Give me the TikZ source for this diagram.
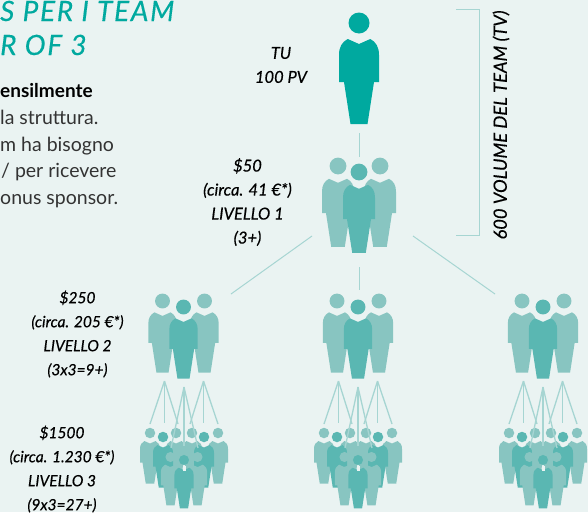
\documentclass[tikz,border=0pt]{standalone}
\usepackage{fontspec}
\setmainfont{Lato}
\newfontfamily\titlefont[LetterSpace=6,FakeBold=0.3]{Lato}
\newfontfamily\labfont[FakeBold=0.4]{Lato}
\definecolor{bgcol}{HTML}{EAF3F2}
\definecolor{topcol}{HTML}{00A99F}
\definecolor{backcol}{HTML}{88C5C1}
\definecolor{frontcol}{HTML}{5AB7B2}
\definecolor{linkcol}{HTML}{A6D5D2}
\newcommand{\personfill}[1]{
    \fill[#1] (0,0) circle (10.5);
    \fill[#1] (-11.3,16) -- (0,21) -- (11.3,16)
        .. controls (17,19) and (20,24) .. (20,32)
        -- (20,59) -- (15,59) -- (8.5,101) -- (-8.5,101)
        -- (-15,59) -- (-20,59) -- (-20,32)
        .. controls (-20,24) and (-17,19) .. (-11.3,16) -- cycle;
}
\begin{document}
\begin{tikzpicture}[
    x=1pt, y=-1pt,
    link/.style={draw=linkcol, line width=1pt},
    thinlink/.style={draw=linkcol, line width=1.3pt},
    title/.style={
        anchor=base west,
        inner sep=0pt,
        text=topcol,
        font=\titlefont\itshape\fontsize{28}{30}\selectfont
    },
    body/.style={
        anchor=base west,
        inner sep=0pt,
        text=black!80,
        font=\fontsize{19.5}{22}\selectfont
    },
    lab/.style={
        align=center,
        inner sep=0pt,
        font=\labfont\itshape\fontsize{16.5}{24}\selectfont
    },
    smalllab/.style={
        align=center,
        inner sep=0pt,
        font=\labfont\itshape\fontsize{15.5}{24}\selectfont
    },
    person/.pic={
        \personfill{#1}
    },
    halo/.pic={
        \fill[bgcol] (0,0) circle (14);
        \personfill{#1}
    },
    trio/.pic={
        \pic[scale=#1] at (-21,-6) {person=backcol};
        \pic[scale=#1] at (21,-6) {person=backcol};
        \pic[scale=#1] at (0,0) {halo=frontcol};
    },
    crowd/.pic={
        % upper row
        \pic[scale=.5] at (-8,46) {person=backcol};
        \pic[scale=.5] at (8,46) {person=backcol};
        \pic[scale=.5] at (-34,46) {person=backcol};
        \pic[scale=.5] at (34,46) {person=backcol};
        \pic[scale=.5] at (-21,50) {halo=frontcol};
        \pic[scale=.5] at (20,50) {halo=frontcol};
        % lower row
        \pic[scale=.48] at (-13.5,70) {person=backcol};
        \pic[scale=.48] at (13.5,70) {person=backcol};
        \pic[scale=.48] at (0,73) {person=frontcol};
        \fill[bgcol] (-1.5,79) rectangle (1.5,84);
        % links
        \coordinate (-apexl) at (-19.5,-6);
        \coordinate (-apexm) at (0,0);
        \coordinate (-apexr) at (19.5,-6);
        \coordinate (-l1) at (-34,37);
        \coordinate (-l2) at (-19.5,36);
        \coordinate (-l3) at (-6,37);
        \coordinate (-m1) at (-13,61);
        \coordinate (-m2) at (0,59);
        \coordinate (-m3) at (14,61);
        \coordinate (-r1) at (6,37);
        \coordinate (-r2) at (19.5,36);
        \coordinate (-r3) at (34,37);
        \foreach \e in {l1,l2,l3} \draw[thinlink] (-apexl) -- (-\e);
        \foreach \e in {m1,m2,m3} \draw[thinlink] (-apexm) -- (-\e);
        \foreach \e in {r1,r2,r3} \draw[thinlink] (-apexr) -- (-\e);
    }
]
\useasboundingbox (0,0) rectangle (588,512);
\clip (0,0) rectangle (588,512);
\fill[bgcol] (0,0) rectangle (588,512);

% Heading
\node[title] (head1) at (0,21) {S PER I TEAM};
\node[title] (head2) at (0,55) {R OF 3};

% Text
\node[body, font=\bfseries\fontsize{19}{22}\selectfont, text=black] (text1) at (0,97) {ensilmente};
\node[body] (text2) at (0,124) {la struttura.};
\node[body] (text3) at (0,151) {m ha bisogno};
\node[body] (text4) at (1,177) {/ per ricevere};
\node[body] (text5) at (0,204) {onus sponsor.};

% People
\pic at (359,23) {person=topcol};
\pic at (359,172) {trio=.8};
\pic at (183.5,307) {trio=.71};
\pic at (358,307) {trio=.71};
\pic at (543,307) {trio=.71};
\pic (left) at (184,387) {crowd};
\pic (mid) at (358,387) {crowd};
\pic (right) at (543,387) {crowd};

% Links
\coordinate (topa) at (359,133);
\coordinate (topb) at (359,157);
\coordinate (midl) at (312,236);
\coordinate (midr) at (413,236);
\coordinate (midd) at (359,267);
\coordinate (lowl) at (231,294);
\coordinate (lowr) at (495,294);
\coordinate (lowd) at (359,290);
\draw[link] (topa) -- (topb);
\draw[link] (midl) -- (lowl);
\draw[link] (midr) -- (lowr);
\draw[link] (midd) -- (lowd);

% Bracket
\coordinate (bra) at (456,9);
\coordinate (brb) at (479,9);
\coordinate (brc) at (479,235);
\coordinate (brd) at (456,235);
\draw[link] (bra) -- (brb) -- (brc) -- (brd);
\node[lab, font=\labfont\itshape\fontsize{18.3}{20}\selectfont, rotate=90] (volume) at (501,125) {600 VOLUME DEL TEAM (TV)};

% Labels
\node[lab] (you) at (281,65) {TU\\100 PV};
\node[lab] (level1) at (247.5,202) {\$50\\(circa. 41 €*)\\LIVELLO 1\\(3+)};
\node[smalllab] (level2) at (77.5,334) {\$250\\(circa. 205 €*)\\LIVELLO 2\\(3x3=9+)};
\node[smalllab] (level3) at (62,469) {\$1500\\(circa. 1.230 €*)\\LIVELLO 3\\(9x3=27+)};
\end{tikzpicture}
\end{document}
